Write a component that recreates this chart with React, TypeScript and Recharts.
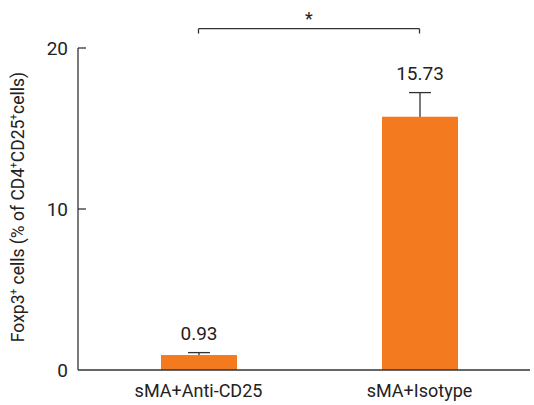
import React from "react";
import { BarChart, Bar, XAxis, YAxis, LabelList, ReferenceLine } from "recharts";

const groups = ["sMA+Anti-CD25", "sMA+Isotype"];
const means = [0.93, 15.73];
const upperErrors = [0.15, 1.5];
const yTicks = [0, 10, 20];

const BRACKET_Y = 21.2;
const BRACKET_DROP = 0.3;

const data = groups.map((g, i) => ({
  group: g,
  value: means[i],
  err: upperErrors[i],
}));

const FONT = "Roboto, sans-serif";
const AXIS = "#333";
const ORANGE = "#f47a20";

function YTick(props: any) {
  const { x, y, payload } = props;
  const axisX = x + 10;
  return (
    <g>
      {payload.value !== 0 && (
        <line x1={axisX} y1={y} x2={axisX + 8} y2={y} stroke={AXIS} strokeWidth={1.3} />
      )}
      <text x={x} y={y} dy="0.36em" textAnchor="end" fill="#222" fontSize={19} fontFamily={FONT}>
        {payload.value}
      </text>
    </g>
  );
}

function YLabel() {
  return (
    <text
      transform="translate(24,207) rotate(-90)"
      textAnchor="middle"
      fill="#222"
      fontSize={17.5}
      fontFamily={FONT}
    >
      <tspan>Foxp3</tspan>
      <tspan fontSize={10} dy={-7}>+</tspan>
      <tspan dy={7}> cells (% of CD4</tspan>
      <tspan fontSize={10} dy={-7}>+</tspan>
      <tspan dy={7}>CD25</tspan>
      <tspan fontSize={10} dy={-7}>+</tspan>
      <tspan dy={7}>cells)</tspan>
    </text>
  );
}

// bar with its upper error whisker drawn behind it
function BarWithError(props: any) {
  const { x, y, width, height, payload, fill } = props;
  const pxPerUnit = height / payload.value;
  const topY = y - payload.err * pxPerUnit;
  const cx = x + width / 2;
  return (
    <g>
      <line x1={cx} y1={y + 2} x2={cx} y2={topY} stroke={AXIS} strokeWidth={1.3} />
      <line x1={cx - 11} y1={topY} x2={cx + 11} y2={topY} stroke={AXIS} strokeWidth={1.3} />
      <rect x={x} y={y} width={width} height={height} fill={fill} />
    </g>
  );
}

function ValueLabel(props: any) {
  const { x, y, width, height, value } = props;
  const idx = means.indexOf(value);
  if (idx < 0) return null;
  const pxPerUnit = height / value;
  const topY = y - upperErrors[idx] * pxPerUnit;
  return (
    <text x={x + width / 2} y={topY - 13} textAnchor="middle" fill="#222" fontSize={19} fontFamily={FONT}>
      {value.toFixed(2)}
    </text>
  );
}

export default function App() {
  return (
    <div style={{ position: "absolute", left: 0, top: 0 }}>
      <BarChart
        width={534}
        height={405}
        data={data}
        margin={{ top: 48, right: 4, bottom: 0, left: 0 }}
        barCategoryGap={0}
      >
        <XAxis
          dataKey="group"
          height={35}
          padding={{ left: 10, right: 0 }}
          tickLine={false}
          tickSize={0}
          tickMargin={14}
          axisLine={{ stroke: AXIS, strokeWidth: 1.3 }}
          tick={{ fill: "#222", fontSize: 18, fontFamily: FONT }}
          interval={0}
        />
        <YAxis
          width={78}
          domain={[0, 20]}
          ticks={yTicks}
          tickLine={false}
          tickSize={0}
          tickMargin={10}
          axisLine={{ stroke: AXIS, strokeWidth: 1.3 }}
          tick={<YTick />}
          label={<YLabel />}
        />
        <ReferenceLine
          segment={[
            { x: groups[0], y: BRACKET_Y },
            { x: groups[1], y: BRACKET_Y },
          ]}
          stroke={AXIS}
          strokeWidth={1.3}
          ifOverflow="visible"
          label={{ value: "*", position: "top", fill: "#222", fontSize: 18, fontFamily: FONT, offset: 4 }}
        />
        <ReferenceLine
          segment={[
            { x: groups[0], y: BRACKET_Y },
            { x: groups[0], y: BRACKET_Y - BRACKET_DROP },
          ]}
          stroke={AXIS}
          strokeWidth={1.3}
          ifOverflow="visible"
        />
        <ReferenceLine
          segment={[
            { x: groups[1], y: BRACKET_Y },
            { x: groups[1], y: BRACKET_Y - BRACKET_DROP },
          ]}
          stroke={AXIS}
          strokeWidth={1.3}
          ifOverflow="visible"
        />
        <Bar
          dataKey="value"
          fill={ORANGE}
          barSize={76}
          isAnimationActive={false}
          shape={<BarWithError />}
        >
          <LabelList dataKey="value" content={<ValueLabel />} />
        </Bar>
      </BarChart>
    </div>
  );
}
